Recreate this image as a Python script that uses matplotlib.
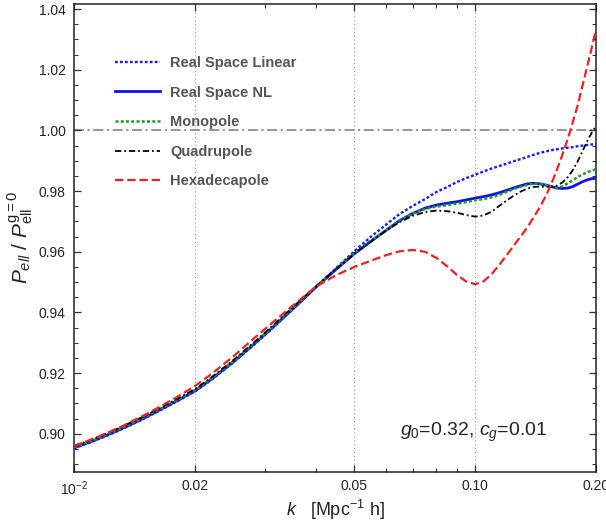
import matplotlib
matplotlib.use("Agg")
import matplotlib.pyplot as plt
from matplotlib.ticker import FixedLocator, FixedFormatter, NullFormatter

plt.rcParams['font.family'] = ['Liberation Sans', 'DejaVu Sans']
plt.rcParams['mathtext.fontset'] = 'custom'
plt.rcParams['mathtext.rm'] = 'Liberation Sans'
plt.rcParams['mathtext.it'] = 'Liberation Sans:italic'
plt.rcParams['mathtext.bf'] = 'Liberation Sans:bold'

# ---------------- data ----------------
k = [0.010, 0.011, 0.012, 0.013, 0.014, 0.015, 0.016, 0.018, 0.020, 0.022,
     0.025, 0.028, 0.031, 0.035, 0.040, 0.045, 0.050, 0.055, 0.060, 0.065,
     0.070, 0.075, 0.080, 0.085, 0.090, 0.095, 0.100, 0.105, 0.110, 0.115,
     0.120, 0.125, 0.130, 0.135, 0.140, 0.145, 0.150, 0.155, 0.160, 0.165,
     0.170, 0.175, 0.180, 0.185, 0.190, 0.195, 0.200]

real_nl = [0.8954, 0.8974, 0.8994, 0.9014, 0.9034, 0.9053, 0.9072, 0.9108, 0.9141, 0.9180,
           0.9238, 0.9294, 0.9346, 0.9410, 0.9482, 0.9542, 0.9594, 0.9635, 0.9671, 0.9704,
           0.9727, 0.9744, 0.9754, 0.9760, 0.9765, 0.9771, 0.9777, 0.9782, 0.9788, 0.9795,
           0.9803, 0.9811, 0.9818, 0.9824, 0.9826, 0.9824, 0.9820, 0.9815, 0.9810, 0.9809,
           0.9810, 0.9815, 0.9823, 0.9831, 0.9837, 0.9841, 0.9842]

real_lin = [0.8952, 0.8972, 0.8992, 0.9012, 0.9032, 0.9051, 0.9070, 0.9106, 0.9139, 0.9178,
            0.9236, 0.9292, 0.9344, 0.9409, 0.9483, 0.9546, 0.9602, 0.9650, 0.9690, 0.9726,
            0.9752, 0.9774, 0.9797, 0.9813, 0.9830, 0.9843, 0.9854, 0.9865, 0.9875, 0.9883,
            0.9891, 0.9899, 0.9906, 0.9913, 0.9920, 0.9926, 0.9931, 0.9935, 0.9938, 0.9941,
            0.9943, 0.9945, 0.9948, 0.9950, 0.9952, 0.9954, 0.9954]

monopole = [0.8956, 0.8976, 0.8996, 0.9016, 0.9036, 0.9055, 0.9074, 0.9110, 0.9143, 0.9182,
            0.9240, 0.9296, 0.9348, 0.9412, 0.9484, 0.9544, 0.9595, 0.9636, 0.9672, 0.9704,
            0.9727, 0.9741, 0.9749, 0.9754, 0.9759, 0.9764, 0.9770, 0.9774, 0.9780, 0.9788,
            0.9798, 0.9807, 0.9815, 0.9821, 0.9825, 0.9824, 0.9820, 0.9815, 0.9812, 0.9816,
            0.9826, 0.9836, 0.9846, 0.9855, 0.9862, 0.9868, 0.9872]

quadrupole = [0.8960, 0.8980, 0.9000, 0.9020, 0.9040, 0.9059, 0.9078, 0.9114, 0.9147, 0.9186,
              0.9244, 0.9300, 0.9352, 0.9416, 0.9485, 0.9543, 0.9594, 0.9634, 0.9670, 0.9699,
              0.9719, 0.9731, 0.9736, 0.9734, 0.9729, 0.9721, 0.9716, 0.9720, 0.9733, 0.9752,
              0.9770, 0.9786, 0.9799, 0.9809, 0.9814, 0.9815, 0.9814, 0.9814, 0.9818, 0.9829,
              0.9846, 0.9869, 0.9898, 0.9931, 0.9964, 0.9992, 1.0015]

hexadecapole = [0.8960, 0.8980, 0.9001, 0.9021, 0.9042, 0.9062, 0.9082, 0.9120, 0.9157, 0.9197,
                0.9256, 0.9313, 0.9363, 0.9421, 0.9484, 0.9523, 0.9550, 0.9571, 0.9589, 0.9602,
                0.9606, 0.9600, 0.9580, 0.9553, 0.9524, 0.9502, 0.9493, 0.9503, 0.9527, 0.9558,
                0.9590, 0.9622, 0.9652, 0.9681, 0.9715, 0.9747, 0.9785, 0.9826, 0.9872, 0.9921,
                0.9971, 1.0026, 1.0083, 1.0146, 1.0209, 1.0271, 1.0332]

labels = ["Real Space Linear", "Real Space NL", "Monopole", "Quadrupole", "Hexadecapole"]
xtick_vals = [0.01, 0.02, 0.05, 0.10, 0.20]
xtick_labels = [r"10$^{-2}$", "0.02", "0.05", "0.10", "0.20"]
xminor_vals = [0.03, 0.04, 0.06, 0.07, 0.08, 0.09]
ytick_vals = [0.90, 0.92, 0.94, 0.96, 0.98, 1.00, 1.02, 1.04]
grid_x = [0.02, 0.05, 0.10]

# ---------------- figure ----------------
fig = plt.figure(figsize=(6.06, 5.27), dpi=100)
ax = fig.add_axes([74/606, 1-472/527, 522/606, 468/527])

ax.set_xscale('log')
ax.set_xlim(0.01, 0.2)
ax.set_ylim(0.8874, 1.0417)

for gx in grid_x:
    ax.axvline(gx, color='#9a9a9a', lw=0.8, ls=(0, (1, 2.5)), zorder=1)
ax.axhline(1.0, color='#8c8c8c', lw=1.3, ls=(0, (5.5, 2, 1.2, 2)), zorder=1)

l1, = ax.plot(k, real_lin, color='#1a1aff', lw=1.7, ls=(0, (1.2, 0.9)), zorder=3)
l2, = ax.plot(k, real_nl, color='#1010ee', lw=2.0, ls='-', zorder=3)
l3, = ax.plot(k, monopole, color='#1e9a1e', lw=1.8, ls=(0, (1.2, 0.9)), zorder=4)
l4, = ax.plot(k, quadrupole, color='black', lw=1.3, ls=(0, (3.5, 1.6, 1.0, 1.6)), zorder=5)
l5, = ax.plot(k, hexadecapole, color='#ee2020', lw=1.6, ls=(0, (3.8, 1.7)), zorder=6)

ax.xaxis.set_major_locator(FixedLocator(xtick_vals))
ax.xaxis.set_major_formatter(FixedFormatter(xtick_labels))
ax.xaxis.set_minor_locator(FixedLocator(xminor_vals))
ax.xaxis.set_minor_formatter(NullFormatter())
ax.yaxis.set_major_locator(FixedLocator(ytick_vals))
ax.yaxis.set_major_formatter(FixedFormatter([f"{v:.2f}" for v in ytick_vals]))
ax.yaxis.set_minor_locator(FixedLocator([0.89 + 0.005*i for i in range(31)]))

ax.tick_params(which='both', direction='in', top=True, right=True, colors='#333333',
               labelcolor='#222222')
ax.tick_params(which='major', length=5, width=0.9, labelsize=10)
ax.tick_params(which='minor', length=3, width=0.8)
ax.tick_params(axis='y', which='major', pad=6)
ax.tick_params(axis='x', which='major', pad=5)
for s in ax.spines.values():
    s.set_color('#222222')
    s.set_linewidth(1.1)

ax.set_xlabel(r"$k$   [Mpc$^{-1}$ h]", fontsize=13, color='#222222')
ax.xaxis.set_label_coords(0.5, -0.055)
ax.set_ylabel(r"$P_{ell}$ / $P_{\mathrm{ell}}^{\mathrm{g=0}}$", fontsize=15, color='#222222')
ax.yaxis.set_label_coords(-0.072, 0.5)

ax.text(0.765, 0.085, r"$g_0$=0.32, $c_g$=0.01", transform=ax.transAxes,
        fontsize=14, ha='center', va='center', color='#222222')

leg = ax.legend([l1, l2, l3, l4, l5], labels, loc='upper left',
                bbox_to_anchor=(0.0785, 0.889), frameon=False,
                prop={'family': 'Liberation Sans', 'weight': 'bold', 'size': 10.5},
                handlelength=3.1, handletextpad=0.7, labelspacing=1.07,
                borderpad=0, borderaxespad=0)
for t in leg.get_texts():
    t.set_color('#555555')

fig.savefig("out.png", dpi=100)
